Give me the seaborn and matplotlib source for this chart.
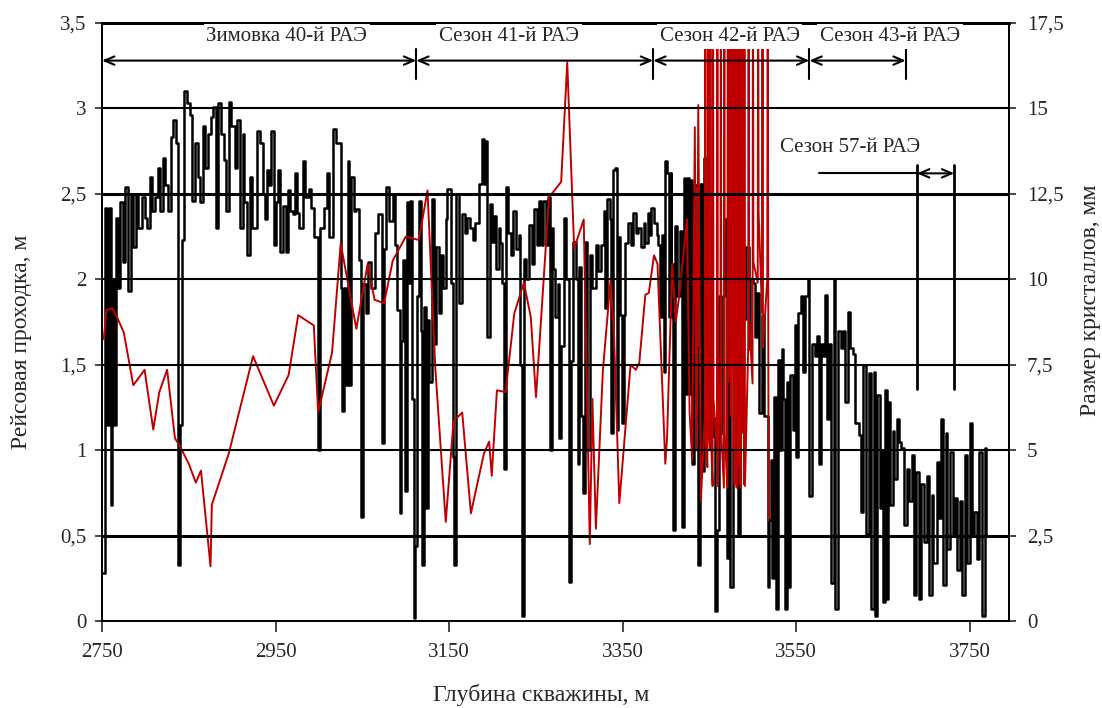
import numpy as np
import pandas as pd
import matplotlib
matplotlib.use("Agg")
import matplotlib.pyplot as plt
import seaborn as sns

# Run length per drilling run (left axis, m) against hole depth (m)
run_depth = [
    2751, 2753, 2756, 2758, 2760, 2762, 2764, 2766, 2768, 2771, 2774, 2777, 2780, 2783, 2786, 2789,
    2792, 2796, 2799, 2802, 2805, 2808, 2811, 2814, 2817, 2820, 2823, 2826, 2829, 2832, 2835, 2837,
    2838, 2840, 2842, 2845, 2848, 2851, 2854, 2857, 2860, 2863, 2866, 2869, 2872, 2875, 2878, 2881,
    2884, 2887, 2890, 2893,
    2896, 2899, 2903, 2906, 2909, 2912, 2914, 2917, 2920, 2923, 2928, 2932, 2935, 2938, 2940, 2942,
    2945, 2948, 2951, 2953, 2955, 2958, 2962, 2964, 2967, 2970, 2972, 2975, 2977, 2981, 2984, 2988,
    2991, 2994, 2999, 3001, 3006, 3009, 3012, 3016, 3019, 3025, 3027, 3029, 3031, 3033, 3035, 3037,
    3040,
    3043, 3046, 3048, 3051, 3054, 3057, 3060, 3064, 3068, 3072, 3075, 3077, 3081, 3085, 3088, 3090,
    3093, 3095, 3097, 3099, 3101, 3103, 3105, 3107, 3109, 3111, 3113, 3115, 3117, 3119, 3121, 3123,
    3125, 3127, 3130, 3132, 3135, 3138, 3140, 3143, 3146, 3148, 3152, 3154, 3156, 3158, 3161, 3165,
    3168, 3171, 3174, 3177, 3180, 3184, 3188,
    3190, 3192, 3194, 3197, 3199, 3202, 3204, 3207, 3209, 3211, 3213, 3215, 3218, 3221, 3224, 3227,
    3230, 3232, 3234, 3236, 3239, 3242, 3245, 3248, 3251, 3254, 3256, 3258, 3261, 3264, 3266, 3268,
    3270, 3272, 3275, 3277, 3279, 3282, 3285, 3288, 3290, 3293, 3296, 3298, 3300, 3302, 3304, 3306,
    3309, 3312, 3315, 3319, 3322, 3325, 3328, 3330, 3332, 3335, 3337, 3339,
    3341, 3343, 3345, 3347, 3349, 3351, 3353, 3356, 3359, 3362, 3365, 3368, 3371, 3374, 3376, 3379,
    3381, 3383, 3386, 3389, 3391, 3393, 3395, 3397, 3399, 3401, 3403, 3405, 3406, 3408, 3410, 3413,
    3416, 3418, 3420, 3422, 3424, 3426, 3428, 3430, 3432, 3435, 3437, 3439, 3441, 3444, 3447, 3450,
    3452, 3454, 3456, 3458, 3461, 3463, 3466, 3468, 3470, 3472, 3474, 3477, 3480, 3483, 3485,
    3487, 3489, 3492, 3495, 3497, 3500, 3502, 3505, 3507, 3510, 3513, 3517, 3519, 3521, 3522, 3524,
    3526, 3529, 3531, 3533, 3535, 3537, 3539, 3541, 3543, 3546, 3548, 3550, 3552, 3555, 3558, 3560,
    3563, 3565, 3568, 3571, 3574, 3576, 3578, 3581, 3583, 3585, 3588, 3590, 3593, 3595, 3598, 3601,
    3604, 3606, 3609, 3612, 3615, 3618, 3622, 3624, 3627, 3630, 3634, 3636,
    3639, 3641, 3643, 3646, 3649, 3650, 3652, 3654, 3656, 3658, 3661, 3663, 3666, 3668, 3671, 3674,
    3677, 3680, 3683, 3685, 3688, 3691, 3694, 3697, 3700, 3703, 3706, 3708, 3712, 3714, 3717, 3719,
    3722, 3724, 3727, 3730, 3733, 3735, 3738, 3741, 3744, 3747, 3750, 3752, 3755, 3758, 3761, 3764,
    3767, 3769, 3771,
]
run_length = [
    0.28, 2.42, 1.15, 2.42, 0.68, 2.00, 1.15, 2.36, 1.95, 2.45, 2.10, 2.54, 1.93, 2.50, 2.19, 2.50,
    2.30, 2.48, 2.36, 2.30, 2.60, 2.40, 2.48, 2.65, 2.40, 2.71, 2.55, 2.40, 2.83, 2.93, 2.80, 2.28,
    0.33, 1.15, 2.23, 3.10, 3.03, 2.96, 2.46, 2.80, 2.60, 2.45, 2.90, 2.65, 2.85, 2.95, 3.01, 2.30,
    3.03, 2.85, 2.70, 2.40,
    3.04, 2.90, 2.65, 2.93, 2.30, 2.85, 2.45, 2.14, 2.60, 2.30, 2.87, 2.80, 2.50, 2.35, 2.64, 2.55,
    2.87, 2.20, 2.45, 2.64, 2.16, 2.43, 2.16, 2.52, 2.40, 2.38, 2.62, 2.39, 2.30, 2.69, 2.48, 2.53,
    2.42, 2.25, 1.00, 2.30, 2.42, 2.62, 2.25, 2.88, 2.80, 1.95, 1.23, 1.95, 1.38, 2.69, 1.38, 2.60,
    2.40,
    2.41, 2.11, 0.61, 1.97, 1.80, 2.10, 1.95, 2.27, 2.38, 1.04, 2.18, 2.54, 2.34, 2.50, 2.20, 1.82,
    0.63, 1.64, 2.11, 0.76, 2.45, 1.98, 2.46, 1.30, 0.02, 0.44, 1.90, 2.46, 1.70, 0.33, 1.84, 0.66,
    1.76, 1.40, 2.47, 1.62, 2.19, 1.80, 2.14, 1.95, 2.35, 2.53, 1.98, 0.96, 0.33, 2.50, 1.86, 2.38,
    2.27, 2.36, 2.30, 2.23, 2.33, 2.56, 2.82,
    2.56, 2.81, 1.66, 2.44, 2.22, 2.37, 2.06, 2.30, 2.21, 1.98, 0.89, 2.54, 2.27, 2.14, 2.40, 2.18,
    2.26, 1.50, 0.03, 2.12, 2.00, 2.32, 2.09, 2.41, 2.20, 2.46, 2.20, 2.46, 2.20, 2.48, 1.00, 2.30,
    2.06, 1.78, 1.97, 1.07, 1.61, 2.36, 2.00, 0.23, 1.52, 2.22, 2.00, 0.92, 2.07, 1.20, 0.75, 2.22,
    1.00, 2.14, 1.95, 2.20, 2.05, 2.20, 2.40, 1.83, 2.47, 2.35, 1.10, 2.64,
    2.65, 1.12, 2.25, 1.79, 1.16, 1.79, 2.21, 2.33, 2.20, 2.39, 2.27, 2.30, 2.19, 2.33, 2.21, 2.39,
    2.26, 2.42, 2.33, 2.26, 2.20, 1.78, 2.26, 1.46, 2.69, 2.62, 1.78, 2.62, 2.09, 0.53, 2.31, 1.90,
    2.28, 0.55, 2.59, 1.33, 2.59, 1.33, 2.58, 0.92, 2.55, 1.60, 0.33, 2.56, 0.88, 2.71, 1.18, 2.00,
    1.08, 1.18, 0.06, 0.53, 1.90, 1.10, 1.90, 2.35, 0.37, 2.30, 0.20, 1.00, 2.10, 0.50, 2.20,
    2.33, 1.77, 2.19, 1.59, 2.00, 1.98, 1.66, 1.92, 1.22, 1.79, 1.20, 0.20, 0.59, 0.94, 0.25, 1.31,
    0.07, 1.53, 1.00, 1.59, 1.30, 0.07, 1.40, 0.20, 1.44, 1.12, 1.73, 0.96, 1.80, 1.90, 1.46, 1.90,
    2.00, 0.73, 1.62, 1.55, 1.67, 0.92, 1.62, 1.55, 1.91, 1.18, 1.62, 0.22, 2.00, 0.07, 1.70, 1.60,
    1.70, 1.28, 1.81, 1.60, 1.56, 1.16, 1.09, 0.64, 1.50, 0.51, 1.45, 0.07,
    1.46, 0.03, 1.32, 0.66, 1.00, 0.11, 1.35, 0.13, 1.28, 0.68, 1.11, 0.83, 1.18, 1.05, 1.01, 0.56,
    0.89, 0.70, 0.97, 0.15, 0.87, 0.13, 0.80, 0.46, 0.85, 0.15, 0.74, 0.34, 0.93, 0.60, 1.18, 0.21,
    1.10, 0.42, 0.99, 0.50, 0.72, 0.30, 0.70, 0.15, 0.97, 0.34, 1.16, 0.50, 0.64, 0.36, 0.99, 0.03,
    1.01, 0.50, 0.50,
]

# Crystal size (right axis, mm) against depth (m); peaks above 17.5 run off the chart
crystal_depth = [
    2752, 2755, 2762, 2768, 2775, 2786, 2799, 2809, 2816, 2825, 2834, 2840, 2850, 2858, 2864, 2875,
    2876.5, 2896, 2924, 2948, 2965, 2976, 2994, 2999, 3015, 3025, 3043, 3056, 3064, 3075, 3085, 3100,
    3115, 3125, 3134, 3146, 3155, 3165, 3175, 3190, 3196, 3199, 3205, 3215, 3225, 3236, 3244, 3250,
    3265, 3279, 3286, 3294, 3305, 3312, 3315, 3319, 3327, 3336, 3340, 3346, 3359, 3365, 3369, 3376,
    3380, 3386, 3390, 3399, 3401, 3407, 3411, 3415, 3424, 3427, 3430, 3433, 3435, 3437, 3440,
    3444.5, 3445, 3445.5, 3447.5, 3448, 3448.5, 3450.5, 3451, 3451.5, 3453.5, 3454, 3454.5,
    3458.5, 3459, 3459.5, 3462.5, 3463, 3463.5, 3466.5, 3467, 3467.5, 3470.5, 3471, 3471.5,
    3473.5, 3474, 3474.5,
    3477, 3477.6, 3478.2, 3478.8, 3479.4, 3480, 3480.6, 3481.2, 3481.8, 3482.4, 3483, 3483.6,
    3484.2, 3484.8, 3485.4, 3486, 3486.6, 3487.2, 3487.8, 3488.4, 3489, 3489.6, 3490.2, 3490.8,
    3494.5, 3495, 3495.5, 3499.5, 3500, 3500.5, 3505.5, 3506, 3506.5, 3510.5, 3511, 3511.5,
    3516.5, 3517, 3518,
]
crystal_size = [
    8.25, 9.10, 9.15, 8.85, 8.45, 6.90, 7.35, 5.60, 6.70, 7.35, 5.35, 5.10, 4.60, 4.05, 4.40, 1.60,
    3.40, 4.90, 7.75, 6.30, 7.20, 8.95, 8.65, 6.10, 7.85, 11.05, 8.55, 10.45, 9.40, 9.30, 10.55, 11.25,
    11.15, 12.60, 7.40, 2.90, 5.85, 6.10, 3.15, 4.90, 5.25, 4.25, 6.75, 6.70, 9.00, 9.90, 8.90, 6.55,
    12.40, 12.85, 16.35, 10.90, 11.75, 2.25, 6.50, 2.70, 7.30, 10.00, 8.30, 3.45, 7.50, 7.35, 7.55, 9.55,
    9.60, 10.70, 10.45, 4.60, 5.35, 10.45, 8.75, 9.50, 11.75, 6.10, 4.70, 14.45, 5.00, 15.10, 3.50,
    6.00, 20.0, 5.00, 4.50, 20.0, 6.00, 5.00, 20.0, 5.50, 3.95, 20.0, 6.50,
    5.00, 20.0, 3.95, 7.50, 20.0, 5.50, 3.90, 20.0, 5.50, 3.90, 20.0, 7.00,
    8.00, 20.0, 6.00,
    20.0, 5.00, 20.0, 4.00, 20.0, 6.00, 20.0, 3.90, 20.0, 4.50, 20.0, 6.00,
    20.0, 4.00, 20.0, 3.90, 20.0, 5.50, 20.0, 7.00, 20.0, 4.00, 20.0, 3.95,
    8.00, 20.0, 8.95, 6.95, 20.0, 10.50, 9.90, 20.0, 11.95, 9.00, 20.0, 8.00,
    10.00, 20.0, 2.95,
]

x_ticks = [2750, 2950, 3150, 3350, 3550, 3750]
left_ticks = [0, 0.5, 1, 1.5, 2, 2.5, 3, 3.5]
left_tick_labels = ["0", "0,5", "1", "1,5", "2", "2,5", "3", "3,5"]
right_ticks = [0, 2.5, 5, 7.5, 10, 12.5, 15, 17.5]
right_tick_labels = ["0", "2,5", "5", "7,5", "10", "12,5", "15", "17,5"]
grid_levels = [0.5, 1, 1.5, 2, 2.5, 3]
thick_levels = [0.5, 2.5]

# Expedition (RAE) intervals shown by arrows at the top
season_bounds = [2750, 3112, 3385, 3565, 3676]
season_labels = ["Зимовка 40-й РАЭ", "Сезон 41-й РАЭ", "Сезон 42-й РАЭ", "Сезон 43-й РАЭ"]
season_label_x = [2963, 3219, 3473, 3658]
season57_bounds = [3689, 3732]

runs = pd.DataFrame({"depth": run_depth, "length": run_length})
crystals = pd.DataFrame({"depth": crystal_depth, "size": crystal_size})

sns.set_style("white")
plt.rcParams["font.family"] = ["Liberation Serif", "DejaVu Serif"]

fig = plt.figure(figsize=(11.02, 7.08), dpi=100)
ax = fig.add_axes([0.0926, 0.1229, 0.8230, 0.8446])
ax2 = ax.twinx()

sns.lineplot(data=runs, x="depth", y="length", ax=ax, color="black", linewidth=1.8,
             drawstyle="steps-post", estimator=None, sort=False)
sns.lineplot(data=crystals, x="depth", y="size", ax=ax2, color="#C00000", linewidth=1.4,
             estimator=None, sort=False)

ax.set_xlim(2750, 3795)
ax.set_ylim(0, 3.5)
ax2.set_ylim(0, 17.5)

tr = ax.transData
ytr = ax.get_yaxis_transform()

# horizontal grid drawn above the red line, as in the original
for lv in grid_levels:
    lw = 2.2 if lv in thick_levels else 1.5
    ax2.plot([0, 1], [lv, lv], color="black", linewidth=lw, zorder=3, transform=ytr)

ax.set_xticks(x_ticks)
ax.set_xticklabels([str(t) for t in x_ticks])
ax.set_yticks(left_ticks)
ax.set_yticklabels(left_tick_labels)
ax2.set_yticks(right_ticks)
ax2.set_yticklabels(right_tick_labels)

ax.tick_params(axis="x", direction="out", length=8, width=1.2, pad=8, labelsize=15, bottom=True)
ax.tick_params(axis="y", direction="out", length=5, width=1.2, pad=6, labelsize=15, left=True)
ax2.tick_params(axis="y", direction="out", length=5, width=1.2, pad=8, labelsize=15, right=True)

for a in (ax, ax2):
    for s in a.spines.values():
        s.set_color("black")
        s.set_linewidth(1.3)
    a.spines["top"].set_linewidth(2)

ax.set_xlabel("Глубина скважины, м", fontsize=17)
ax.set_ylabel("Рейсовая проходка, м", fontsize=17)
ax2.set_ylabel("Размер кристаллов, мм", fontsize=17)
ax.xaxis.set_label_coords(0.484, -0.105)
ax.yaxis.set_label_coords(-0.077, 0.467)
ax2.yaxis.set_label_coords(1.078, 0.537)

# annotations go on ax2 (drawn last) but use the left-axis data coordinates
arrow_y = 3.28
arrow_kw = dict(arrowstyle="<->,head_length=0.7,head_width=0.3", color="black", lw=1.5,
                shrinkA=0, shrinkB=0)
for x0, x1 in zip(season_bounds[:-1], season_bounds[1:]):
    ax2.annotate("", xy=(x0, arrow_y), xytext=(x1, arrow_y), xycoords=tr, textcoords=tr,
                 arrowprops=arrow_kw, zorder=5)
for xb in season_bounds[1:]:
    ax2.plot([xb, xb], [3.17, 3.35], color="black", lw=1.5, transform=tr, zorder=5)
for lab, xl in zip(season_labels, season_label_x):
    ax2.text(xl, 3.42, lab, transform=tr, ha="center", va="center", fontsize=15, zorder=6,
             bbox=dict(facecolor="white", edgecolor="none", pad=2))

# 57th expedition marker
ax2.text(3612, 2.77, "Сезон 57-й РАЭ", transform=tr, ha="center", va="center", fontsize=15,
         zorder=6, bbox=dict(facecolor="white", edgecolor="none", pad=2))
ax2.plot([3576, season57_bounds[0]], [2.62, 2.62], color="black", lw=1.5, transform=tr, zorder=5)
ax2.annotate("", xy=(season57_bounds[0], 2.62), xytext=(season57_bounds[1], 2.62),
             xycoords=tr, textcoords=tr, arrowprops=arrow_kw, zorder=5)
for xb in season57_bounds:
    ax2.plot([xb, xb], [1.36, 2.67], color="black", lw=2, transform=tr, zorder=5)

fig.savefig("out.png", dpi=100)
